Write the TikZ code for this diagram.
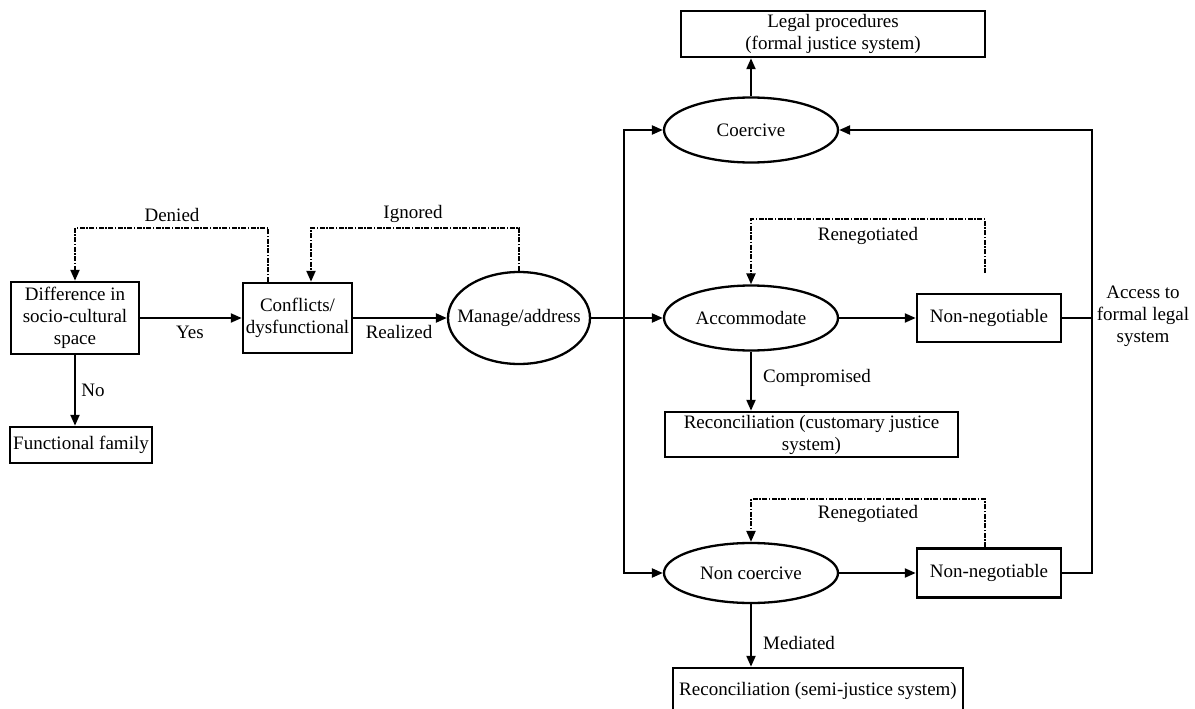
\documentclass[tikz,border=0pt]{standalone}
\usepackage{fontspec}
\setmainfont{Liberation Serif}
\usetikzlibrary{arrows.meta,shapes.geometric}
\tikzset{
  box/.style={draw, rectangle, line width=2.5pt, inner sep=0pt, align=center},
  oval/.style={draw, ellipse, line width=2.3pt, inner sep=0pt},
  lbl/.style={inner sep=0pt, align=center},
  conn/.style={line width=2.2pt},
  arr/.style={line width=2.2pt, -{Triangle[length=11pt,width=9pt]}},
  dashln/.style={line width=2pt, dash pattern={on 5pt off 1.5pt on 1.5pt off 1.5pt}},
}
\begin{document}
\begin{tikzpicture}[x=1pt, y=-1pt, font=\fontsize{19}{22}\selectfont]
\useasboundingbox (0,0) rectangle (1195,709);
\clip (0,0) rectangle (1195,709);
% nodes
\node[box, minimum width=128pt, minimum height=72pt] (diff) at (75,318) {Difference in\\socio-cultural\\space};
\node[box, minimum width=142pt, minimum height=36pt] (func) at (81,445) {Functional family};
\node[box, minimum width=109pt, minimum height=70pt] (conf) at (297.5,318) {Conflicts/\\dysfunctional};
\node[oval, minimum width=142pt, minimum height=92pt] (manage) at (519,318) {\makebox[0pt]{Manage/address}};
\node[box, minimum width=304pt, minimum height=46pt] (legal) at (833,34) {Legal procedures\\(formal justice system)};
\node[oval, minimum width=174pt, minimum height=65pt] (coer) at (751,130) {\makebox[0pt]{Coercive}};
\node[oval, minimum width=174pt, minimum height=65pt] (accom) at (751,318) {\makebox[0pt]{Accommodate}};
\node[box, minimum width=144pt, minimum height=48pt] (nn1) at (989,318) {Non-negotiable};
\node[box, minimum width=293pt, minimum height=45pt] (rec1) at (811.5,434.5) {Reconciliation (customary justice\\system)};
\node[oval, minimum width=174pt, minimum height=60pt] (noncoer) at (751,573) {\makebox[0pt]{Non coercive}};
\node[box, minimum width=144pt, minimum height=49pt] (nn2) at (989,573) {Non-negotiable};
\node[box, minimum width=290pt, minimum height=46pt] (rec2) at (818,691) {Reconciliation (semi-justice system)};
\node[lbl] (access) at (1143,316) {Access to\\formal legal\\system};
% labels
\node[lbl] (lyes) at (190,332) {Yes};
\node[lbl] (lno) at (93,390) {No};
\node[lbl] (lreal) at (399,332) {Realized};
\node[lbl] (lden) at (172,215) {Denied};
\node[lbl] (lign) at (413,214) {Ignored};
\node[lbl] (lren1) at (868,236) {Renegotiated};
\node[lbl] (lren2) at (868,514) {Renegotiated};
\node[lbl, anchor=west] (lcomp) at (763,378) {Compromised};
\node[lbl, anchor=west] (lmed) at (763,643) {Mediated};
% coordinates
\coordinate (vl) at (624,318);
\coordinate (rl) at (1092,130);
\coordinate (r1) at (985,273);
% connectors
\draw[arr] (diff) -- (conf);
\draw[arr] (diff.south) -- (diff.south |- func.north);
\draw[arr] (conf) -- (manage);
\draw[dashln, arr] ([xshift=-29.5pt]conf.north) -- ++(0,-54) -| (diff.north);
\draw[dashln, arr] (manage.north) -- ++(0,-43) -| ([xshift=13.5pt]conf.north);
\draw[arr] (manage) -- (accom);
\draw[arr] (vl) |- (coer.west);
\draw[arr] (vl) |- (noncoer.west);
\draw[arr] (coer.north) -- (coer.north |- legal.south);
\draw[arr] (accom) -- (nn1);
\draw[arr] (accom.south) -- (accom.south |- rec1.north);
\draw[dashln, arr] (r1) -- ++(0,-54) -| (accom.north);
\draw[conn] (nn1.east) -- (nn1.east -| rl);
\draw[arr] (nn2.east) -| (rl) -- (coer.east);
\draw[arr] (noncoer) -- (nn2);
\draw[dashln, arr] ([xshift=-4pt]nn2.north) -- ++(0,-48) -| (noncoer.north);
\draw[arr] (noncoer.south) -- (noncoer.south |- rec2.north);
\end{tikzpicture}
\end{document}
